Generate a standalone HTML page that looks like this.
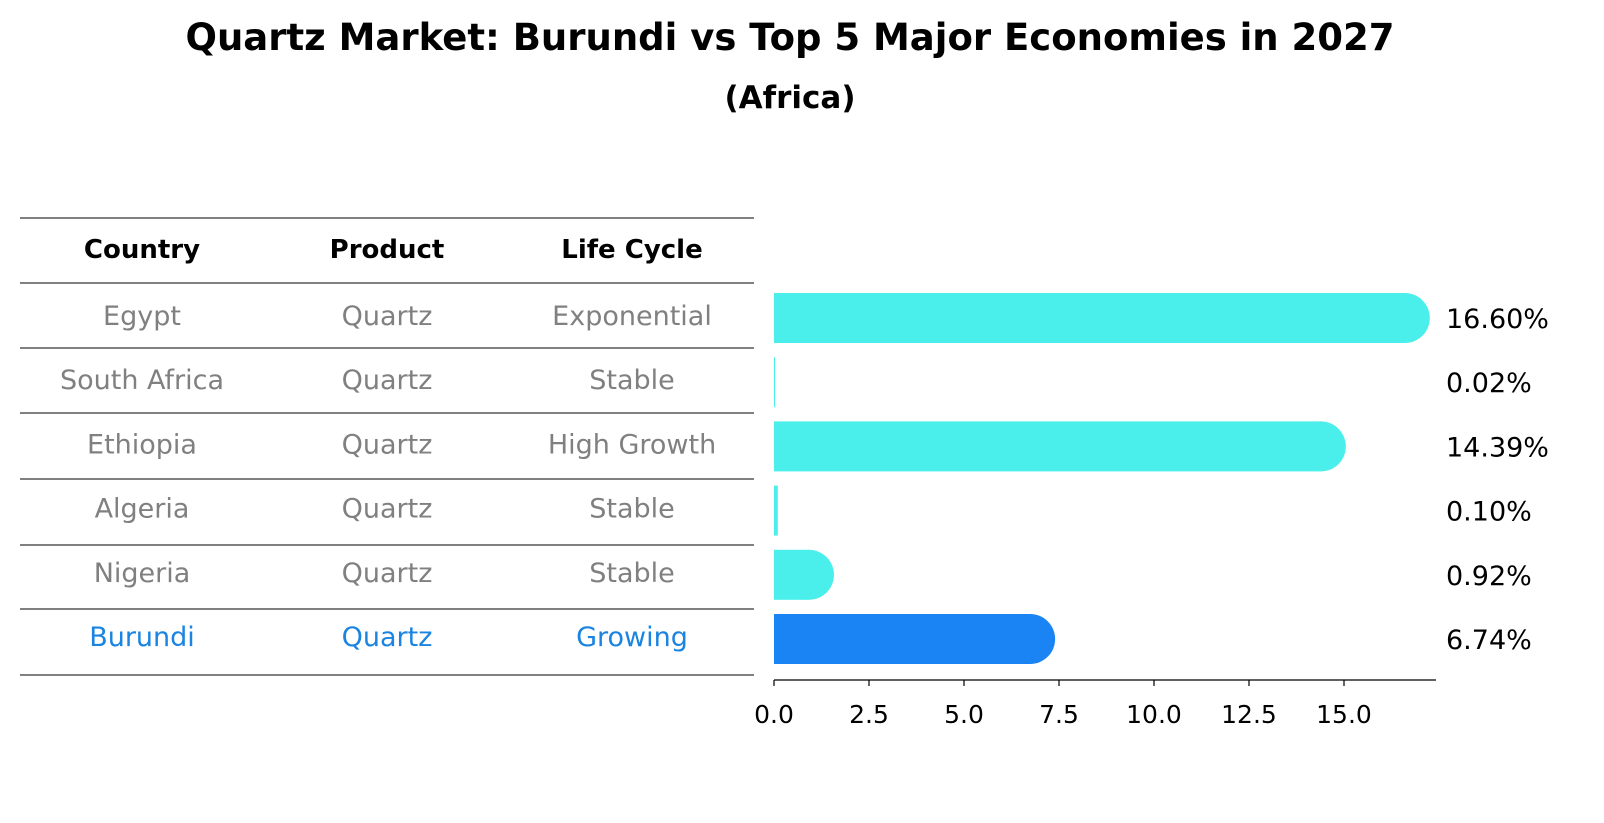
<!DOCTYPE html>
<html><head><meta charset="utf-8"><style>
body{margin:0;background:#fff;font-family:"DejaVu Sans","Liberation Sans",sans-serif;}
#wrap{position:relative;width:1604px;height:823px;overflow:hidden;}
</style></head><body>
<div id="wrap">
<svg id="svg" width="1604" height="823" xmlns="http://www.w3.org/2000/svg">
<text x="790" y="50" text-anchor="middle" font-size="37" font-weight="bold">Quartz Market: Burundi vs Top 5 Major Economies in 2027</text>
<text x="790" y="108" text-anchor="middle" font-size="31" font-weight="bold">(Africa)</text>
<g id="table"></g>
<g id="bars"></g>
</svg>
</div>
<script>
const countries=["Egypt","South Africa","Ethiopia","Algeria","Nigeria","Burundi"];
const products=["Quartz","Quartz","Quartz","Quartz","Quartz","Quartz"];
const lifeCycles=["Exponential","Stable","High Growth","Stable","Stable","Growing"];
const values=[16.60,0.02,14.39,0.10,0.92,6.74];
const tickValues=[0,2.5,5,7.5,10,12.5,15];
const tickLabels=["0.0","2.5","5.0","7.5","10.0","12.5","15.0"];

const NS="http://www.w3.org/2000/svg";
function mk(tag,attrs,parent,text){const e=document.createElementNS(NS,tag);for(const k in attrs)e.setAttribute(k,attrs[k]);if(text!==undefined)e.textContent=text;parent.appendChild(e);return e;}
const tbl=document.getElementById('table'),bars=document.getElementById('bars');
const x0=774,scale=38,axisY=680;
const xs=v=>x0+v*scale;
const rowY=i=>318+i*64.2;
const tableLines=[218,283,348,413,479,545,609,675];
tableLines.forEach((y,i)=>{const l=mk('line',{x1:20,x2:754,y1:y,y2:y,stroke:'#000','stroke-width':1},tbl);

});
const colX=[142,387,632];
["Country","Product","Life Cycle"].forEach((h,j)=>{const t=mk('text',{x:colX[j],y:258,'text-anchor':'middle','font-size':26,'font-weight':'bold'},tbl,h);

});
countries.forEach((c,i)=>{const col=i===countries.length-1?'#1a84e0':'#808080';
[c,products[i],lifeCycles[i]].forEach((s,j)=>{const t=mk('text',{x:colX[j],y:rowY(i)+7,'text-anchor':'middle','font-size':27,fill:col},tbl,s);

});
const col2=i===countries.length-1?'#1a84f5':'#4aeeea';
const w=values[i]*scale,cy=rowY(i);
const g=mk('g',{},bars);


mk('rect',{x:x0,y:cy-25,width:Math.max(w,1),height:50,fill:col2},g);
if(w>25)mk('circle',{cx:x0+w,cy:cy,r:25,fill:col2},g);
const lab=mk('text',{x:1446,y:cy+10,'font-size':27},bars,values[i].toFixed(2)+'%');


});
const ax=mk('line',{x1:x0,x2:1436,y1:axisY,y2:axisY,stroke:'#000','stroke-width':1.2},bars);


tickValues.forEach((v,i)=>{const x=xs(v);
const tk=mk('line',{x1:x,x2:x,y1:axisY,y2:axisY+6,stroke:'#000','stroke-width':1.2},bars);


const t=mk('text',{x:x,y:723,'text-anchor':'middle','font-size':25},bars,tickLabels[i]);

});
</script>
</body></html>
